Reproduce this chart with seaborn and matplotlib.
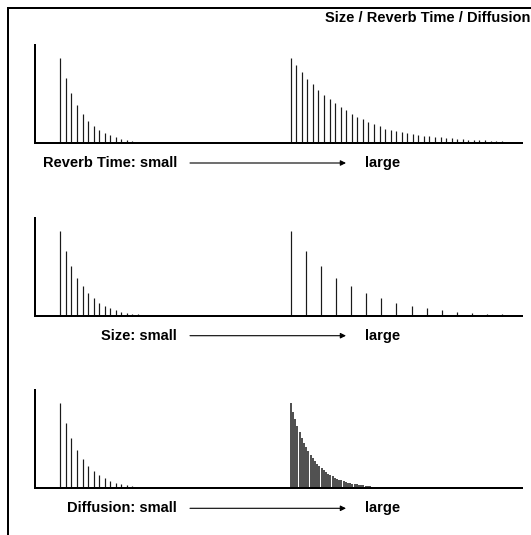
import numpy as np
import matplotlib
matplotlib.use("Agg")
import matplotlib.pyplot as plt
import seaborn as sns

# ---- data (normalised amplitudes) ----
small_taps = [1.00, 0.766, 0.586, 0.449, 0.344, 0.262, 0.203, 0.152, 0.117,
              0.090, 0.066, 0.047, 0.035, 0.025, 0.016]
reverb_large_taps = [1.00, 0.917, 0.830, 0.756, 0.693, 0.629, 0.570, 0.520,
                     0.472, 0.429, 0.386, 0.346, 0.311, 0.280, 0.248, 0.221,
                     0.197, 0.169, 0.153, 0.139, 0.127, 0.116, 0.105, 0.096,
                     0.087, 0.079, 0.072, 0.066, 0.060, 0.054, 0.050, 0.045,
                     0.041, 0.038, 0.034, 0.031, 0.028, 0.026, 0.024]
size_large_taps = small_taps
diffusion_large_taps = [1.00, 0.902, 0.813, 0.733, 0.661, 0.596, 0.538, 0.485,
                        0.437, 0.394, 0.356, 0.321, 0.289, 0.261, 0.235, 0.212,
                        0.191, 0.172, 0.156, 0.140, 0.127, 0.114, 0.103, 0.093,
                        0.084, 0.075, 0.068, 0.061, 0.055, 0.050, 0.045, 0.041,
                        0.037, 0.033, 0.030, 0.027, 0.024]
panel_names = ["Reverb Time", "Size", "Diffusion"]
large_sets = [reverb_large_taps, size_large_taps, diffusion_large_taps]
title_text = "Size / Reverb Time / Diffusion"

# ---- layout (pixels) ----
W, H = 531, 535
small_start, small_step = 25.3, 5.55
large_start = 255.7
large_steps = [5.55, 15.1, 2.2]
large_widths = [1.2, 1.2, 1.7]
large_colors = ["#1a1a1a", "#1a1a1a", "#333333"]
baselines = [143, 315.7, 488.3]
axis_h = 98
axis_left, axis_right = 35, 522
first_h = 85

sns.set_theme(style="white")
plt.rcParams['font.family'] = ['Liberation Sans', 'DejaVu Sans']

fig = plt.figure(figsize=(W / 100, H / 100), dpi=100)
fig.patch.set_facecolor("white")

px = 72 / 100  # points per pixel

for name, large, step, lwid, lcol, base in zip(panel_names, large_sets, large_steps,
                                               large_widths, large_colors, baselines):
    ax = fig.add_axes([axis_left / W, (H - base) / H,
                       (axis_right - axis_left) / W, axis_h / H])
    ax.set_facecolor("none")
    ax.set_xlim(0, axis_right - axis_left)
    ax.set_ylim(0, axis_h / first_h)
    xs = small_start + small_step * np.arange(len(small_taps))
    ax.vlines(xs, 0, small_taps, colors="#1a1a1a", linewidth=1.2 * px)
    xl = large_start + step * np.arange(len(large))
    ax.vlines(xl, 0, large, colors=lcol, linewidth=lwid * px)
    sns.despine(ax=ax)
    for s in ("left", "bottom"):
        ax.spines[s].set_linewidth(2 * px)
        ax.spines[s].set_color("black")
    ax.set_xticks([])
    ax.set_yticks([])

# overlay in pixel coordinates for frame and labels
ov = fig.add_axes([0, 0, 1, 1])
ov.set_xlim(0, W)
ov.set_ylim(H, 0)
ov.axis("off")
ov.set_facecolor("none")
ov.plot([8.3, W + 5], [8.3, 8.3], color="black", lw=2 * px, solid_capstyle="butt")
ov.plot([8.3, 8.3], [7.3, H + 5], color="black", lw=2 * px, solid_capstyle="butt")
ov.text(530, 18.5, title_text, ha="right", va="center", fontsize=10.5,
        fontweight="bold", color="black")

for name, base in zip(panel_names, baselines):
    ty = base + 20
    ov.text(177, ty, f"{name}: small", ha="right", va="center", fontsize=10.5,
            fontweight="bold", color="black")
    ov.annotate("", xy=(346, ty), xytext=(190, ty),
                arrowprops=dict(arrowstyle="-|>", lw=0.8, color="black",
                                mutation_scale=8, shrinkA=0, shrinkB=0))
    ov.text(365, ty, "large", ha="left", va="center", fontsize=10.5,
            fontweight="bold", color="black")

fig.savefig("out.png", dpi=100, facecolor="white")
